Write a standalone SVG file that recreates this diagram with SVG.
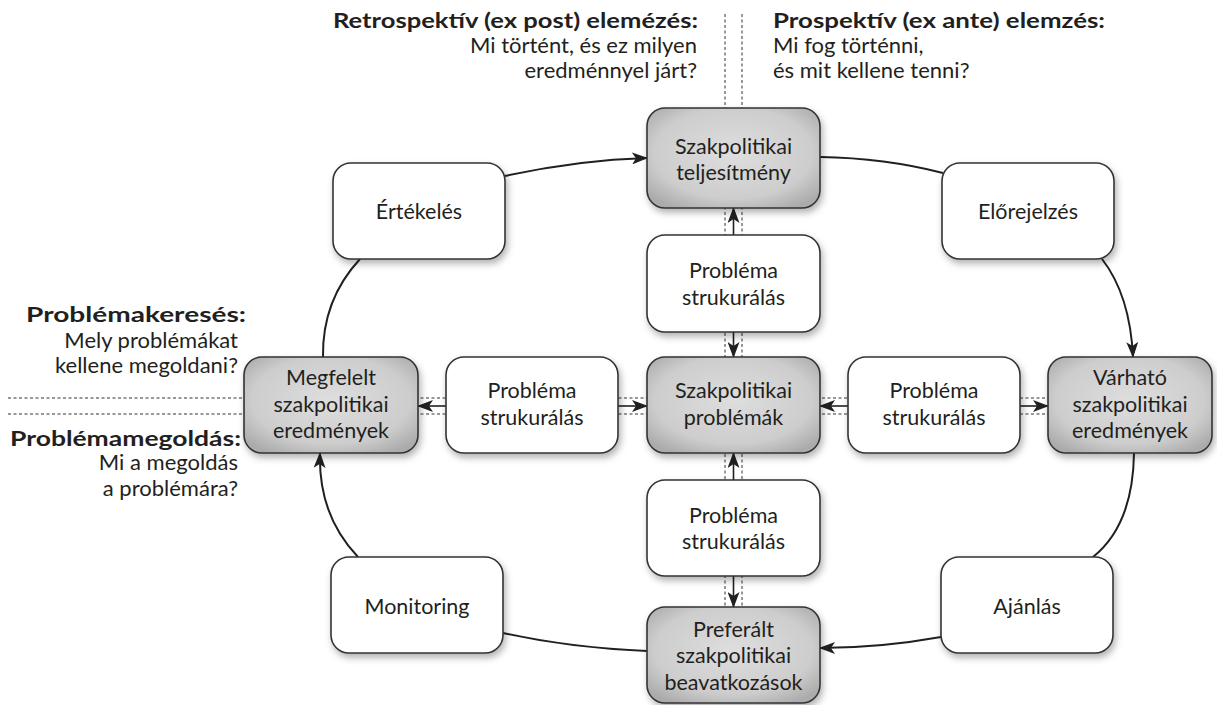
<svg xmlns="http://www.w3.org/2000/svg" width="1217" height="705" viewBox="0 0 1217 705">
  <defs>
    <style>
      .t { font-family: Lato, "Open Sans", sans-serif; font-size: 21.5px; fill: #231f20; text-anchor: middle; }
      .h { font-family: Lato, "Open Sans", sans-serif; font-size: 22px; fill: #231f20; }
      .hb { font-family: Lato, "Open Sans", sans-serif; font-size: 21px; font-weight: bold; fill: #231f20; }
      .box { fill: #ffffff; stroke: #333333; stroke-width: 1.6; filter: url(#shadow); }
      .grey { fill: url(#greyFill); }
      .dash { stroke: #333333; stroke-width: 1; stroke-dasharray: 3 2.5; fill: none; }
      .flow { stroke: #231f20; stroke-width: 2; fill: none; }
      .link { stroke: #231f20; stroke-width: 1.6; fill: none; }
    </style>
    <radialGradient id="greyFill" cx="0.5" cy="0.45" r="0.65">
      <stop offset="0" stop-color="#dedede"/>
      <stop offset="0.7" stop-color="#cdcdcd"/>
      <stop offset="1" stop-color="#ababab"/>
    </radialGradient>
    <filter id="shadow" x="-10%" y="-10%" width="125%" height="130%">
      <feDropShadow dx="2" dy="4" stdDeviation="3.5" flood-color="#000000" flood-opacity="0.3"/>
    </filter>
    <marker id="arrow" markerUnits="userSpaceOnUse" markerWidth="16" markerHeight="12" refX="15" refY="6" orient="auto">
      <path d="M0,0 L16,6 L0,12 L4,6 Z" fill="#231f20"/>
    </marker>
  </defs>

  <!-- dashed guide lines: time axis (vertical) and problem axis (horizontal) -->
  <g id="guides">
    <line class="dash" x1="725" y1="14" x2="725" y2="607"/>
    <line class="dash" x1="742" y1="14" x2="742" y2="607"/>
    <line class="dash" x1="8" y1="398" x2="1212" y2="398"/>
    <line class="dash" x1="8" y1="414" x2="1212" y2="414"/>
  </g>

  <!-- headings -->
  <g id="headings">
    <text class="hb" text-anchor="end" x="698" y="28" textLength="365" lengthAdjust="spacingAndGlyphs">Retrospektív (ex post) elemézés:</text>
    <text class="h" text-anchor="end" x="697" y="53">Mi történt, és ez milyen</text>
    <text class="h" text-anchor="end" x="697" y="78">eredménnyel járt?</text>

    <text class="hb" x="773" y="28" textLength="332" lengthAdjust="spacingAndGlyphs">Prospektív (ex ante) elemzés:</text>
    <text class="h" x="773" y="53">Mi fog történni,</text>
    <text class="h" x="773" y="78">és mit kellene tenni?</text>

    <text class="hb" text-anchor="end" x="246" y="322" textLength="220" lengthAdjust="spacingAndGlyphs">Problémakeresés:</text>
    <text class="h" text-anchor="end" x="238" y="348">Mely problémákat</text>
    <text class="h" text-anchor="end" x="238" y="373">kellene megoldani?</text>

    <text class="hb" text-anchor="end" x="241" y="446" textLength="231" lengthAdjust="spacingAndGlyphs">Problémamegoldás:</text>
    <text class="h" text-anchor="end" x="238" y="470">Mi a megoldás</text>
    <text class="h" text-anchor="end" x="238" y="496">a problémára?</text>
  </g>

  <!-- connectors -->
  <g id="connectors">
    <!-- outer cycle -->
    <path class="flow" d="M505,176 Q578,160 647,158" marker-end="url(#arrow)"/>
    <path class="flow" d="M820,157 Q885,158 943,173"/>
    <path class="flow" d="M1102,259 Q1130,295 1133,357" marker-end="url(#arrow)"/>
    <path class="flow" d="M1134,453 Q1133,525 1093,557"/>
    <path class="flow" d="M941,637 Q880,648 820,648" marker-end="url(#arrow)"/>
    <path class="flow" d="M647,651 Q570,648 503,633"/>
    <path class="flow" d="M358,557 Q318,515 320,453" marker-end="url(#arrow)"/>
    <path class="flow" d="M323,357 Q322,300 360,259"/>
    <!-- problem structuring links -->
    <line class="link" x1="733.5" y1="235" x2="733.5" y2="208" marker-end="url(#arrow)"/>
    <line class="link" x1="733.5" y1="332" x2="733.5" y2="357" marker-end="url(#arrow)"/>
    <line class="link" x1="733.5" y1="480" x2="733.5" y2="453" marker-end="url(#arrow)"/>
    <line class="link" x1="733.5" y1="576" x2="733.5" y2="607" marker-end="url(#arrow)"/>
    <line class="link" x1="446" y1="406" x2="418" y2="406" marker-end="url(#arrow)"/>
    <line class="link" x1="618" y1="406" x2="647" y2="406" marker-end="url(#arrow)"/>
    <line class="link" x1="848" y1="406" x2="820" y2="406" marker-end="url(#arrow)"/>
    <line class="link" x1="1020" y1="406" x2="1048" y2="406" marker-end="url(#arrow)"/>
  </g>

  <!-- nodes -->
  <g id="performance">
    <rect class="box grey" x="647" y="108" width="173" height="100" rx="18"/>
    <text class="t" x="733.5" y="154">Szakpolitikai</text>
    <text class="t" x="733.5" y="180">teljesítmény</text>
  </g>
  <g id="evaluation">
    <rect class="box" x="333" y="163" width="172" height="96" rx="18"/>
    <text class="t" x="419" y="219">Értékelés</text>
  </g>
  <g id="forecasting">
    <rect class="box" x="942" y="163" width="172" height="96" rx="18"/>
    <text class="t" x="1028" y="219">Előrejelzés</text>
  </g>
  <g id="structuring-top">
    <rect class="box" x="647" y="235" width="173" height="97" rx="18"/>
    <text class="t" x="733.5" y="278">Probléma</text>
    <text class="t" x="733.5" y="305">strukurálás</text>
  </g>
  <g id="outcomes">
    <rect class="box grey" x="244" y="357" width="174" height="96" rx="18"/>
    <text class="t" x="331" y="385">Megfelelt</text>
    <text class="t" x="331" y="412">szakpolitikai</text>
    <text class="t" x="331" y="438">eredmények</text>
  </g>
  <g id="structuring-left">
    <rect class="box" x="446" y="357" width="172" height="96" rx="18"/>
    <text class="t" x="532" y="398">Probléma</text>
    <text class="t" x="532" y="425">strukurálás</text>
  </g>
  <g id="problems">
    <rect class="box grey" x="647" y="357" width="173" height="96" rx="18"/>
    <text class="t" x="733.5" y="398">Szakpolitikai</text>
    <text class="t" x="733.5" y="425">problémák</text>
  </g>
  <g id="structuring-right">
    <rect class="box" x="848" y="357" width="172" height="96" rx="18"/>
    <text class="t" x="934" y="398">Probléma</text>
    <text class="t" x="934" y="425">strukurálás</text>
  </g>
  <g id="expected">
    <rect class="box grey" x="1048" y="357" width="164" height="96" rx="18"/>
    <text class="t" x="1130" y="385">Várható</text>
    <text class="t" x="1130" y="412">szakpolitikai</text>
    <text class="t" x="1130" y="438">eredmények</text>
  </g>
  <g id="structuring-bottom">
    <rect class="box" x="647" y="480" width="173" height="96" rx="18"/>
    <text class="t" x="733.5" y="523">Probléma</text>
    <text class="t" x="733.5" y="549">strukurálás</text>
  </g>
  <g id="monitoring">
    <rect class="box" x="331" y="557" width="172" height="96" rx="18"/>
    <text class="t" x="417" y="614">Monitoring</text>
  </g>
  <g id="recommendation">
    <rect class="box" x="941" y="557" width="172" height="96" rx="18"/>
    <text class="t" x="1027" y="614">Ajánlás</text>
  </g>
  <g id="interventions">
    <rect class="box grey" x="647" y="607" width="173" height="96" rx="18"/>
    <text class="t" x="733.5" y="637">Preferált</text>
    <text class="t" x="733.5" y="663">szakpolitikai</text>
    <text class="t" x="733.5" y="690">beavatkozások</text>
  </g>
</svg>
